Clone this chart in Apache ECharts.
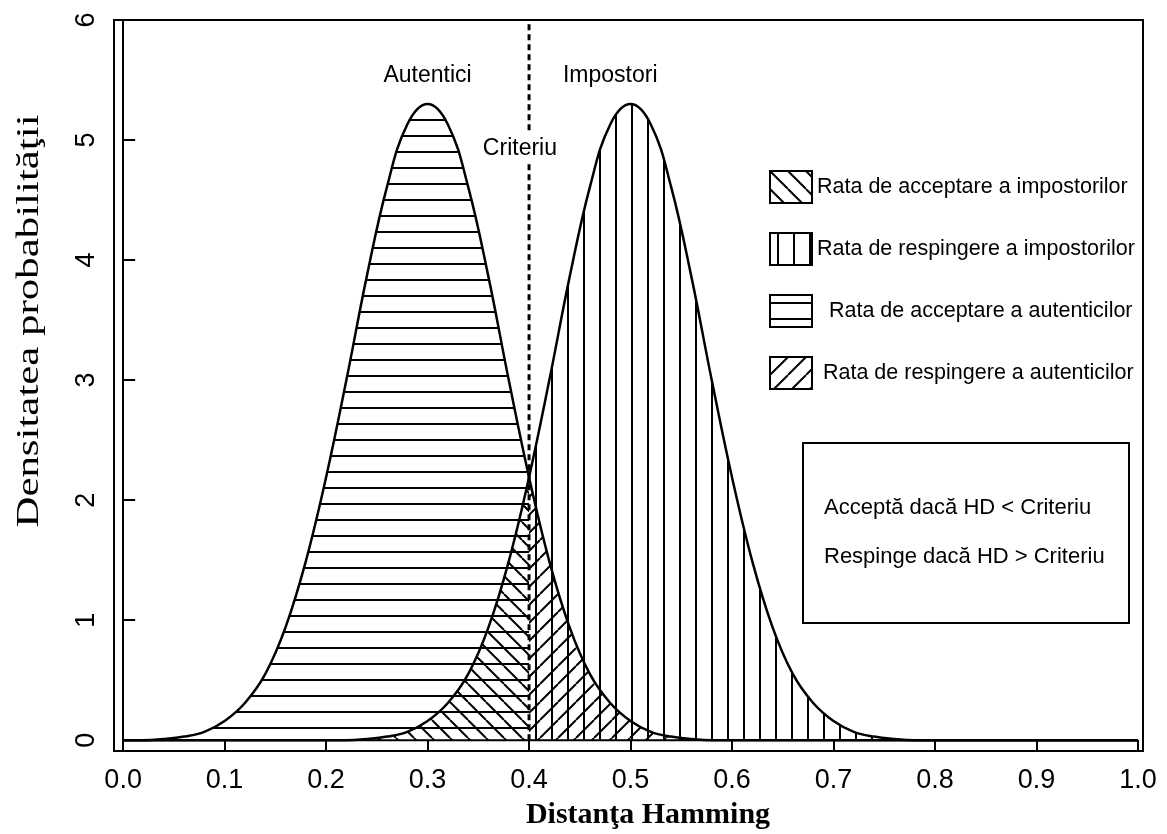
<!DOCTYPE html>
<html>
<head>
<meta charset="utf-8">
<title>Distanţa Hamming</title>
<script src="https://cdn.jsdelivr.net/npm/echarts@6/dist/echarts.min.js"></script>
<style>
  html, body { margin: 0; padding: 0; background: #fff; }
  #chart { width: 1167px; height: 834px; }
</style>
</head>
<body>
<div id="chart"></div>
<script>
// Hamming distance grid and the two density curves
const distanta = [0.00,0.02,0.04,0.06,0.08,0.10,0.12,0.14,0.16,0.18,0.20,0.22,0.24,0.26,0.28,0.30,0.32,0.34,0.36,0.38,0.40,0.42,0.44,0.46,0.48,0.50,0.52,0.54,0.56,0.58,0.60,0.62,0.64,0.66,0.68,0.70,0.72,0.74,0.76,0.78,0.80,0.82,0.84,0.86,0.88,0.90,0.92,0.94,0.96,0.98,1.00];
const autentici = [0.00,0.00,0.01,0.03,0.07,0.16,0.31,0.55,0.94,1.49,2.19,3.00,3.86,4.61,5.13,5.30,5.13,4.61,3.86,3.00,2.19,1.49,0.94,0.55,0.31,0.16,0.07,0.03,0.01,0.00,0.00,0.00,0.00,0.00,0.00,0.00,0.00,0.00,0.00,0.00,0.00,0.00,0.00,0.00,0.00,0.00,0.00,0.00,0.00,0.00,0.00];
const impostori = [0.00,0.00,0.00,0.00,0.00,0.00,0.00,0.00,0.00,0.00,0.00,0.00,0.01,0.03,0.07,0.16,0.31,0.55,0.94,1.49,2.19,3.00,3.86,4.61,5.13,5.30,5.13,4.61,3.86,3.00,2.19,1.49,0.94,0.55,0.31,0.16,0.07,0.03,0.01,0.00,0.00,0.00,0.00,0.00,0.00,0.00,0.00,0.00,0.00,0.00,0.00];
const criteriu = 0.4;

const xTicks = [0.0,0.1,0.2,0.3,0.4,0.5,0.6,0.7,0.8,0.9,1.0];
const yTicks = [0,1,2,3,4,5,6];

const legendNames = [
  'Rata de acceptare a impostorilor',
  'Rata de respingere a impostorilor',
  'Rata de acceptare a autenticilor',
  'Rata de respingere a autenticilor'
];
const curveLabels = [
  [0.30, 5.54, 'Autentici'],
  [0.48, 5.54, 'Impostori']
];
const criteriuLabel = [0.391, 4.93, 'Criteriu'];

// hatch fills drawn on small tiles
function hatch(kind, step, lw) {
  const c = document.createElement('canvas');
  c.width = step; c.height = step;
  const g = c.getContext('2d');
  g.strokeStyle = '#000';
  g.lineWidth = lw;
  g.beginPath();
  if (kind === 'h') { g.moveTo(0, step / 2); g.lineTo(step, step / 2); }
  else if (kind === 'v') { g.moveTo(step / 2, 0); g.lineTo(step / 2, step); }
  else if (kind === '/') {
    for (let k = -1; k <= 1; k++) { g.moveTo(k * step, step); g.lineTo(k * step + step, 0); }
  } else {
    for (let k = -1; k <= 1; k++) { g.moveTo(k * step, 0); g.lineTo(k * step + step, step); }
  }
  g.stroke();
  return { image: c, repeat: 'repeat' };
}
const patH = hatch('h', 16, 2);
const patV = hatch('v', 16, 2);
const patF = hatch('/', 18, 2);
const patB = hatch('\\', 18, 2);

function pairs(ys, from, to) {
  const out = [];
  distanta.forEach((x, i) => {
    if (x >= from - 1e-9 && x <= to + 1e-9) out.push([x, ys[i]]);
  });
  return out;
}
function full(ys) { return distanta.map((x, i) => [x, ys[i]]); }

const SANS = 'Liberation Sans, Arial, sans-serif';
const SERIF = 'Liberation Serif, Times New Roman, serif';

function areaSeries(name, data, pat) {
  return {
    name: name, type: 'line', data: data, smooth: 0.4, symbol: 'none',
    lineStyle: { width: 0, opacity: 0 },
    areaStyle: { color: pat, opacity: 1, origin: 0 },
    itemStyle: { color: '#000' },
    silent: true, z: 2
  };
}
function curveSeries(name, data) {
  return {
    name: name, type: 'line', data: data, smooth: 0.4, symbol: 'none',
    lineStyle: { color: '#000', width: 2.5 }, silent: true, z: 4
  };
}

const chart = echarts.init(document.getElementById('chart'), null, { renderer: 'canvas' });

chart.setOption({
  animation: false,
  backgroundColor: '#fff',
  grid: {
    left: 114, right: 24, top: 20, bottom: 83,
    show: true, borderColor: '#000', borderWidth: 2, backgroundColor: 'transparent'
  },
  xAxis: {
    type: 'value', min: -0.009, max: 1.005,
    axisLine: { show: true, onZero: false, lineStyle: { color: '#000', width: 2 } },
    axisTick: { show: true, inside: true, length: 11, customValues: xTicks, lineStyle: { color: '#000', width: 2 } },
    axisLabel: {
      show: true, customValues: xTicks, margin: 16,
      formatter: v => v.toFixed(1),
      color: '#000', fontFamily: SANS, fontSize: 27
    },
    splitLine: { show: false }
  },
  yAxis: {
    type: 'value', min: -0.09, max: 6,
    axisLine: { show: true, lineStyle: { color: '#000', width: 2 } },
    axisTick: { show: true, inside: true, length: 12, customValues: yTicks, lineStyle: { color: '#000', width: 2 } },
    axisLabel: {
      show: true, customValues: yTicks, rotate: 90, margin: 14,
      formatter: v => String(v),
      color: '#000', fontFamily: SANS, fontSize: 27
    },
    splitLine: { show: false }
  },
  legend: {
    show: true, orient: 'vertical', left: 769, top: 170, padding: 0,
    itemWidth: 42, itemHeight: 32, itemGap: 28, icon: 'rect',
    selectedMode: false,
    textStyle: { color: '#000', fontFamily: SANS, fontSize: 21.5 },
    formatter: name => (name === legendNames[2] ? '  ' + name : (name === legendNames[3] ? ' ' + name : name)),
    data: [
      { name: legendNames[0], itemStyle: { color: patB, borderColor: '#000', borderWidth: 2 } },
      { name: legendNames[1], itemStyle: { color: patV, borderColor: '#000', borderWidth: 2 } },
      { name: legendNames[2], itemStyle: { color: patH, borderColor: '#000', borderWidth: 2 } },
      { name: legendNames[3], itemStyle: { color: patF, borderColor: '#000', borderWidth: 2 } }
    ]
  },
  graphic: [
    {
      type: 'text', x: 30, y: 321, rotation: Math.PI / 2, scaleX: 1.34,
      style: {
        text: 'Densitatea probabilităţii', fill: '#000',
        font: '32px ' + SERIF, textAlign: 'center', textVerticalAlign: 'middle'
      }
    },
    {
      type: 'text', x: 648, y: 815,
      style: {
        text: 'Distanţa Hamming', fill: '#000',
        font: 'bold 30px ' + SERIF, textAlign: 'center', textVerticalAlign: 'middle'
      }
    },
    {
      type: 'group', left: 802, top: 442,
      children: [
        { type: 'rect', shape: { x: 0, y: 0, width: 326, height: 180 },
          style: { fill: '#fff', stroke: '#000', lineWidth: 2 } },
        { type: 'text', x: 21, y: 65,
          style: { text: 'Acceptă dacă HD < Criteriu', fill: '#000', font: '22px ' + SANS, textVerticalAlign: 'middle' } },
        { type: 'text', x: 21, y: 114,
          style: { text: 'Respinge dacă HD > Criteriu', fill: '#000', font: '22px ' + SANS, textVerticalAlign: 'middle' } }
      ]
    }
  ],
  series: [
    areaSeries(legendNames[2], pairs(autentici, 0, criteriu), patH),
    areaSeries(legendNames[3], pairs(autentici, criteriu, 1), patF),
    areaSeries(legendNames[0], pairs(impostori, 0, criteriu), patB),
    areaSeries(legendNames[1], pairs(impostori, criteriu, 1), patV),
    curveSeries('Autentici', full(autentici)),
    curveSeries('Impostori', full(impostori)),
    {
      name: 'baza', type: 'line', data: [[xTicks[0], 0], [xTicks[xTicks.length - 1], 0]],
      symbol: 'none', lineStyle: { color: '#000', width: 2 }, silent: true, z: 5
    },
    {
      name: 'Criteriu', type: 'line', data: [[criteriu, 0], [criteriu, 6]],
      symbol: 'none', lineStyle: { color: '#000', width: 3, type: [6, 4] }, silent: true, z: 6
    },
    {
      name: 'etichete', type: 'scatter', symbolSize: 0, silent: true, z: 8,
      itemStyle: { opacity: 1, color: '#000' },
      data: curveLabels.concat([criteriuLabel]),
      label: {
        show: true, position: [0, 0], align: 'center', verticalAlign: 'middle',
        formatter: p => p.value[2],
        color: '#000', opacity: 1, fontFamily: SANS, fontSize: 23,
        textBorderWidth: 0,
        backgroundColor: '#fff', padding: [4, 2]
      }
    }
  ]
});
</script>
</body>
</html>
